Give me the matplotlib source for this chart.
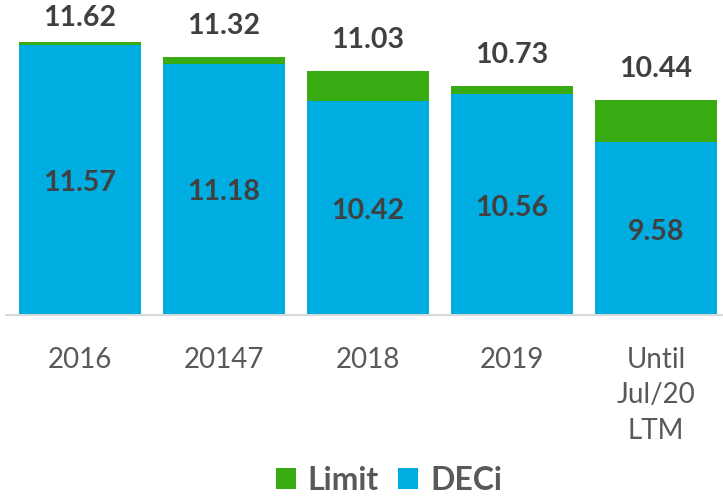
import numpy as np
import matplotlib.pyplot as plt

plt.rcParams['font.family'] = ['Lato', 'DejaVu Sans']

categories = ['2016', '20147', '2018', '2019', 'Until\nJul/20\nLTM']
deci = [11.57, 11.18, 10.42, 10.56, 9.58]
limit = [11.62, 11.32, 11.03, 10.73, 10.44]

blue = '#00ADE0'
green = '#38AA12'
base = 6.07

fig = plt.figure(figsize=(7.23, 4.98), dpi=100)
ax = fig.add_axes([6 / 723, 1 - 315 / 498, 717 / 723, 315 / 498])

x = np.arange(len(categories))
w = 0.847
deci_h = [d - base for d in deci]
gap = [l - d for l, d in zip(limit, deci)]
ax.bar(x, deci_h, w, bottom=base, color=blue, label='DECi')
ax.bar(x, gap, w, bottom=deci, color=green, label='Limit')

for i in range(len(x)):
    ax.text(x[i], (base + deci[i]) / 2 - 0.06, f'{deci[i]:.2f}', ha='center', va='center',
            fontsize=20.5, fontweight='bold', color='#404040')
    ax.text(x[i], min(limit[i] + 0.63, 12.11), f'{limit[i]:.2f}', ha='center', va='center',
            fontsize=20.5, fontweight='bold', color='#404040')

ax.set_xlim(-0.514, 4.465)
ax.set_ylim(base, base + 315 / 49.15)
ax.set_xticks(x)
ax.set_xticklabels(categories, fontsize=20, color='#595959', linespacing=1.45)
ax.tick_params(axis='x', length=0, pad=23)
ax.set_yticks([])
for s in ['top', 'right', 'left']:
    ax.spines[s].set_visible(False)
ax.spines['bottom'].set_color('#D9D9D9')
ax.spines['bottom'].set_linewidth(1.5)

h, l = ax.get_legend_handles_labels()
leg = fig.legend(h[::-1], l[::-1], loc='center', bbox_to_anchor=(389 / 723, 1 - 480 / 498),
                 ncol=2, frameon=False, handlelength=0.62, handleheight=0.62,
                 handletextpad=0.37, columnspacing=0.6, borderpad=0,
                 prop={'size': 23, 'weight': 'bold'})
for t in leg.get_texts():
    t.set_color('#595959')

fig.savefig('out.png', dpi=100)
